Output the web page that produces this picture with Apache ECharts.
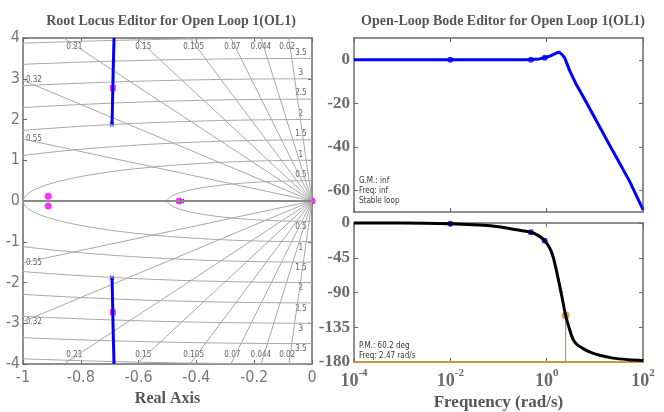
<!DOCTYPE html>
<html>
<head>
<meta charset="utf-8">
<script src="https://cdn.jsdelivr.net/npm/echarts@6/dist/echarts.min.js"></script>
<style>
html,body{margin:0;padding:0;background:#fff;}
#main{width:664px;height:412px;}
</style>
</head>
<body>
<div id="main"></div>
<script>
// root locus grid (sgrid) values
var dampVals = [0.02, 0.044, 0.07, 0.105, 0.15, 0.21, 0.32, 0.55];
var wnVals = [0.5, 1, 1.5, 2, 2.5, 3, 3.5, 4];
var wnLabels = ['0.5', '1', '1.5', '2', '2.5', '3', '3.5'];

// root locus branches and poles / zeros
var branchUpper = [[-0.692, 1.88], [-0.690, 2.5], [-0.688, 3.2], [-0.685, 4.0]];
var branchLower = [[-0.692, -1.88], [-0.690, -2.5], [-0.688, -3.2], [-0.685, -4.0]];
var olPoles = [[-0.692, 1.88], [-0.692, -1.88], [-0.45, 0], [0, 0]];
var olZeros = [[-0.474, 0]];
var clPolesSq = [[-0.689, 2.77], [-0.689, -2.73]];
var clPolesDot = [[-0.46, 0], [-0.913, 0.115], [-0.913, -0.12], [0, 0]];

// bode magnitude
var magFreq = [1e-4, 1e-3, 1e-2, 0.1, 0.3, 0.47, 0.7, 0.91, 1.2, 1.5, 1.78, 2.0, 2.36, 3, 4.1, 7, 12, 23.7, 52.5, 100];
var magDb = [0, 0, 0, 0, 0, 0.1, 0.4, 0.9, 1.8, 2.8, 3.5, 2.8, 0.9, -5, -11.3, -20.5, -30, -42, -55.8, -68.9];
var magMarks = [[0.01, 0], [0.47, 0], [0.91, 0.9]];
var magTicks = [-60, -40, -20, 0];

// bode phase
var phFreq = [1e-4, 1e-3, 1e-2, 0.05, 0.1, 0.2, 0.47, 0.7, 0.91, 1.15, 1.35, 1.6, 2.02, 2.48, 3.0, 3.5, 4.2, 5.5, 7.8, 12, 23.7, 50, 100];
var phDeg = [0, 0, -1, -3, -5, -8, -12, -17, -23, -32, -43, -62, -92, -119.8, -138, -150, -157, -162, -167, -171, -175, -177, -178];
var phMarks = [[0.01, -1], [0.47, -12], [0.91, -23]];
var ph90Mark = [[2.02, -90]];
var pmPoint = [2.47, -119.8];

var gridCol = '#a8a8a8';
var axisCol = '#6a6a6a';
var serif = 'Liberation Serif';
var narrow = '"Liberation Sans Narrow", "DejaVu Sans Condensed", "Liberation Sans"';

function dampLine(z) {
  var w = 6;
  return [[0, 0], [-z * w, w * Math.sqrt(1 - z * z)]];
}
function wnArc(wn, sign) {
  var pts = [];
  for (var i = 0; i <= 40; i++) {
    var t = Math.PI / 2 + i / 40 * Math.PI / 2;
    pts.push([wn * Math.cos(t), sign * wn * Math.sin(t)]);
  }
  return pts;
}

var series = [];
dampVals.forEach(function (z) {
  [1, -1].forEach(function (s) {
    var d = dampLine(z).map(function (p) { return [p[0], s * p[1]]; });
    series.push({type: 'line', xAxisIndex: 0, yAxisIndex: 0, data: d, symbol: 'none',
      lineStyle: {color: gridCol, width: 1}, silent: true});
  });
});
wnVals.forEach(function (wn) {
  [1, -1].forEach(function (s) {
    series.push({type: 'line', xAxisIndex: 0, yAxisIndex: 0, data: wnArc(wn, s), symbol: 'none',
      lineStyle: {color: gridCol, width: 1}, silent: true});
  });
});

// grid labels
var dLab = [];
dampVals.forEach(function (z) {
  var k = Math.sqrt(1 - z * z) / z;
  if (z <= 0.21) {
    var yy = 3.78;
    dLab.push({value: [-yy / k, yy], name: String(z)});
    dLab.push({value: [-yy / k, -yy], name: String(z)});
  } else {
    dLab.push({value: [-0.99, k], name: String(z), label: {align: 'left', offset: [0, 0]}});
    dLab.push({value: [-0.99, -k], name: String(z), label: {align: 'left', offset: [0, 0]}});
  }
});
wnLabels.forEach(function (l) {
  var v = parseFloat(l);
  dLab.push({value: [-0.028, v + 0.14], name: l});
  dLab.push({value: [-0.028, -v - 0.14], name: l});
});
series.push({type: 'scatter', xAxisIndex: 0, yAxisIndex: 0, data: dLab, symbolSize: 0, silent: true,
  label: {show: true, position: 'inside', formatter: '{b}', color: '#333', fontSize: 8,
    fontFamily: narrow, offset: [-3, 0]}});

// real axis
series.push({type: 'line', xAxisIndex: 0, yAxisIndex: 0, data: [[-1, 0], [0, 0]], symbol: 'none',
  lineStyle: {color: '#8a8a8a', width: 2}});
// locus branches
[branchUpper, branchLower].forEach(function (b) {
  series.push({type: 'line', xAxisIndex: 0, yAxisIndex: 0, data: b, symbol: 'none',
    lineStyle: {color: '#0000ff', width: 3}});
});
series.push({type: 'scatter', xAxisIndex: 0, yAxisIndex: 0, data: olPoles,
  symbol: 'path://M0,0L10,10M10,0L0,10', symbolSize: 4,
  itemStyle: {color: 'none', borderColor: '#0000ff', borderWidth: 1.2}});
series.push({type: 'scatter', xAxisIndex: 0, yAxisIndex: 0, data: olZeros, symbol: 'emptyCircle',
  symbolSize: 6, itemStyle: {color: '#fff', borderColor: '#0000ff', borderWidth: 1.5}});
series.push({type: 'scatter', xAxisIndex: 0, yAxisIndex: 0, data: clPolesSq, symbol: 'rect',
  symbolSize: 6, itemStyle: {color: '#ff00ff'}});
series.push({type: 'scatter', xAxisIndex: 0, yAxisIndex: 0, data: clPolesDot, symbol: 'circle',
  symbolSize: 7, itemStyle: {color: '#ff00ff'}, clip: false});

// bode magnitude
series.push({type: 'line', xAxisIndex: 2, yAxisIndex: 2, data: magFreq.map(function (f, i) { return [f, magDb[i]]; }),
  symbol: 'none', lineStyle: {color: '#0000ff', width: 3}, clip: false});
series.push({type: 'scatter', xAxisIndex: 2, yAxisIndex: 2, data: magMarks, symbolSize: 6,
  itemStyle: {color: '#0000ff'}});

// bode phase
series.push({type: 'line', xAxisIndex: 4, yAxisIndex: 4, data: [[1e-4, -180], [100, -180]], symbol: 'none',
  lineStyle: {color: '#c8963c', width: 2}, clip: false});
series.push({type: 'line', xAxisIndex: 4, yAxisIndex: 4, data: [pmPoint, [pmPoint[0], -180]], symbol: 'none',
  lineStyle: {color: '#c8963c', width: 1.2}, clip: false});
series.push({type: 'line', xAxisIndex: 4, yAxisIndex: 4, data: phFreq.map(function (f, i) { return [f, phDeg[i]]; }),
  symbol: 'none', smooth: 0.3, lineStyle: {color: '#000', width: 3}, clip: false});
series.push({type: 'scatter', xAxisIndex: 4, yAxisIndex: 4, data: phMarks, symbolSize: 6,
  itemStyle: {color: '#0000ff'}});
series.push({type: 'scatter', xAxisIndex: 4, yAxisIndex: 4, data: ph90Mark, symbolSize: 3,
  itemStyle: {color: '#0000ff'}});
series.push({type: 'scatter', xAxisIndex: 4, yAxisIndex: 4, data: [pmPoint], symbolSize: 8,
  itemStyle: {color: '#c8902c'}});

function frame(gi, type, pos, extra) {
  var a = {gridIndex: gi, type: type, position: pos,
    axisLine: {show: true, onZero: false, lineStyle: {color: axisCol, width: 1.5}},
    axisTick: {show: true, inside: true, length: 4, lineStyle: {color: axisCol}},
    axisLabel: {show: false}, splitLine: {show: false}};
  return Object.assign(a, extra);
}
var rlLabel = {show: true, color: '#777', fontSize: 16, fontFamily: narrow};
var bodeLabel = {show: true, color: '#6a6a6a', fontSize: 17, fontWeight: 'bold', fontFamily: serif};
var magTick = {show: true, inside: true, length: 4, lineStyle: {color: axisCol}, customValues: magTicks};

var option = {
  animation: false,
  title: [
    {text: 'Root Locus Editor for Open Loop 1(OL1)', left: 166, top: 9, textAlign: 'center',
      textStyle: {fontSize: 14, fontWeight: 'bold', color: '#555', fontFamily: serif}},
    {text: 'Open-Loop Bode Editor for Open Loop 1(OL1)', left: 498, top: 9, textAlign: 'center',
      textStyle: {fontSize: 14, fontWeight: 'bold', color: '#555', fontFamily: serif}}
  ],
  grid: [
    {left: 23, top: 38, width: 289, height: 327},
    {left: 354, top: 38, width: 289, height: 174},
    {left: 354, top: 223, width: 289, height: 141}
  ],
  xAxis: [
    frame(0, 'value', 'bottom', {min: -1, max: 0, interval: 0.2, name: 'Real Axis', nameLocation: 'middle', nameGap: 27,
      nameTextStyle: {fontSize: 16, fontWeight: 'bold', color: '#555', fontFamily: serif},
      axisLabel: Object.assign({margin: 6}, rlLabel)}),
    frame(0, 'value', 'top', {min: -1, max: 0, interval: 0.2}),
    frame(1, 'log', 'bottom', {min: 1e-4, max: 100, logBase: 100}),
    frame(1, 'log', 'top', {min: 1e-4, max: 100, logBase: 100}),
    frame(2, 'log', 'bottom', {min: 1e-4, max: 100, logBase: 100, name: 'Frequency (rad/s)', nameLocation: 'middle', nameGap: 32,
      nameTextStyle: {fontSize: 17, fontWeight: 'bold', color: '#555', fontFamily: serif},
      axisLabel: {show: true, margin: 6, formatter: function (v) {
        return '{b|10}{s|' + Math.round(Math.log10(v)) + '}';
      }, rich: {
        b: {fontSize: 18, fontWeight: 'bold', color: '#6a6a6a', fontFamily: serif, verticalAlign: 'bottom', lineHeight: 22},
        s: {fontSize: 11, fontWeight: 'bold', color: '#6a6a6a', fontFamily: serif, verticalAlign: 'top', lineHeight: 22}
      }}}),
    frame(2, 'log', 'top', {min: 1e-4, max: 100, logBase: 100})
  ],
  yAxis: [
    frame(0, 'value', 'left', {min: -4, max: 4, interval: 1, axisLabel: Object.assign({margin: 3}, rlLabel)}),
    frame(0, 'value', 'right', {min: -4, max: 4, interval: 1}),
    frame(1, 'value', 'left', {min: -70, max: 10, axisTick: magTick,
      axisLabel: Object.assign({margin: 4, customValues: magTicks}, bodeLabel)}),
    frame(1, 'value', 'right', {min: -70, max: 10, axisTick: magTick}),
    frame(2, 'value', 'left', {min: -180, max: 0, interval: 45, axisLabel: Object.assign({margin: 4}, bodeLabel)}),
    frame(2, 'value', 'right', {min: -180, max: 0, interval: 45})
  ],
  graphic: [
    {type: 'text', left: 359, top: 176, style: {text: 'G.M.: inf\nFreq: inf\nStable loop', fontSize: 8,
      lineHeight: 10, fill: '#333', fontFamily: narrow}},
    {type: 'text', left: 359, top: 341, style: {text: 'P.M.: 60.2 deg\nFreq: 2.47 rad/s', fontSize: 8,
      lineHeight: 10, fill: '#333', fontFamily: narrow}}
  ],
  series: series
};

var chart = echarts.init(document.getElementById('main'), null, {renderer: 'canvas'});
chart.setOption(option);
</script>
</body>
</html>
